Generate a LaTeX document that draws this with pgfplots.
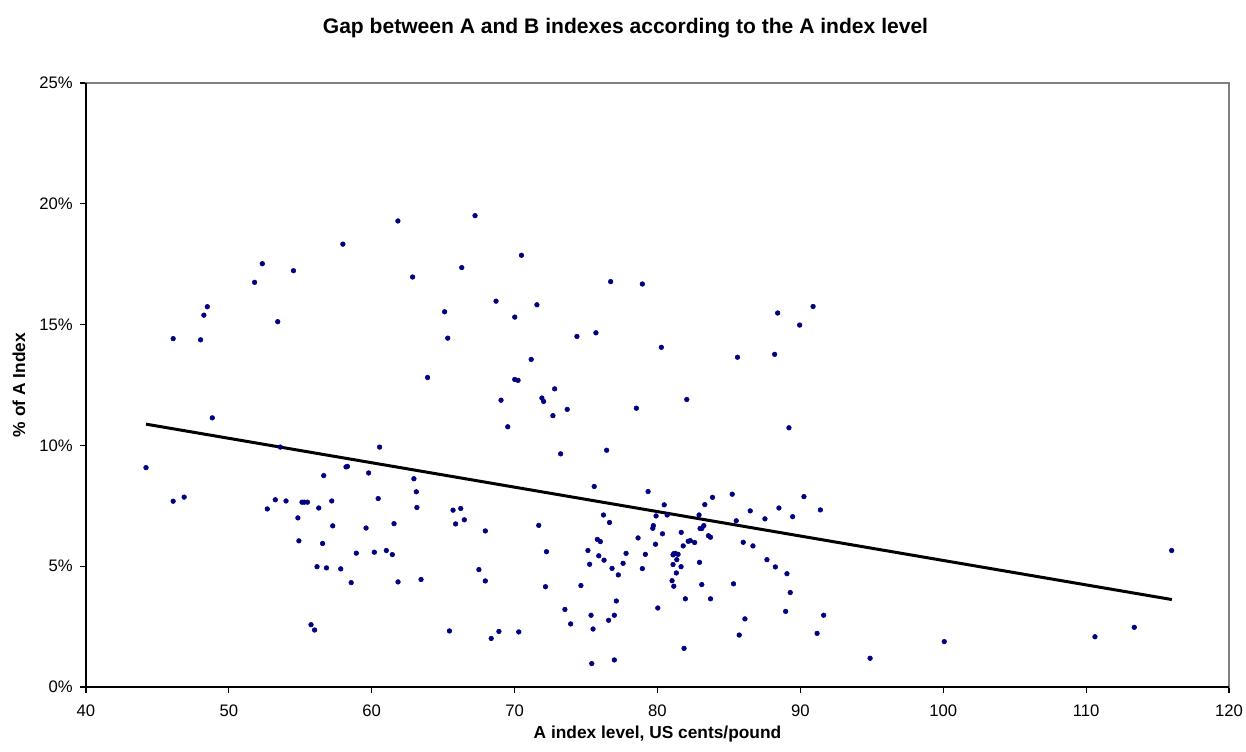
\documentclass[border=0pt]{standalone}
\usepackage{pgfplots}
\pgfplotsset{compat=1.18}
\usepackage{fontspec}
\setmainfont{Liberation Sans}
\definecolor{navy}{RGB}{0,0,128}
\begin{document}
\begin{tikzpicture}
\useasboundingbox (-64.5pt,-48pt) rectangle (870pt,515.25pt);
\begin{axis}[
  scale only axis,
  width=857.25pt, height=453pt,
  xmin=40, xmax=120, ymin=0, ymax=25,
  xtick={40,50,...,120}, ytick={0,5,...,25},
  yticklabel={\pgfmathprintnumber{\tick}\%},
  /pgf/number format/assume math mode=true,
  tick align=outside, xtick pos=bottom, ytick pos=left,
  major tick length=4.5pt,
  tick style={black, line width=0.8pt},
  axis line style={gray, line width=0.8pt},
  ticklabel style={font=\fontsize{12.5}{15}\selectfont},
  xticklabel style={yshift=-5.5pt},
  yticklabel style={xshift=-1.9pt},
  every axis title shift=0pt,
  title={Gap between A and B indexes according to the A index level},
  title style={at={(axis description cs:0.472,1.0911)}, anchor=center, font=\fontsize{15.8}{18}\selectfont\bfseries},
  xlabel={A index level, US cents/pound},
  xlabel style={at={(axis description cs:0.5,-0.0778)}, anchor=center, font=\fontsize{13}{15}\selectfont\bfseries},
  ylabel={\% of A Index},
  ylabel style={at={(axis description cs:-0.0586,0.5)}, anchor=center, font=\fontsize{13}{15}\selectfont\bfseries},
  clip=false,
]
\draw[black, line width=1.2pt] (rel axis cs:0,1) -- (rel axis cs:0,0) -- (rel axis cs:1,0);
\addplot[only marks, mark=*, mark size=1.75pt, color=navy, mark options={fill=navy, draw=navy}] coordinates {
(44.2,9.08) (48.84,11.14) (53.6,9.93) (46.1,7.69) (46.87,7.86) (52.69,7.37) (53.25,7.75) (54.0,7.70)
(55.12,7.65) (55.27,7.65) (55.5,7.65) (54.83,7.0) (56.29,7.41) (56.64,8.75) (57.2,7.70) (57.27,6.67)
(58.2,9.11) (58.3,9.13) (59.78,8.86) (60.55,9.93) (60.45,7.80) (54.9,6.05) (56.56,5.94) (59.6,6.58)
(58.92,5.54) (60.18,5.58) (56.17,4.98) (56.83,4.93) (57.83,4.89) (58.56,4.32) (55.75,2.58) (56.0,2.36)
(57.98,18.33) (52.34,17.52) (54.52,17.23) (51.8,16.75) (48.49,15.74) (48.25,15.39) (53.42,15.12)
(46.1,14.42) (48.02,14.37) (61.83,19.29) (67.23,19.51) (70.48,17.87) (66.3,17.36) (62.86,16.97)
(76.72,16.78) (78.94,16.68) (68.7,15.97) (71.56,15.82) (65.1,15.53) (70.01,15.31) (65.32,14.44)
(74.36,14.51) (75.69,14.66) (80.27,14.06) (71.16,13.56) (63.91,12.81) (70.01,12.73) (70.24,12.69)
(72.8,12.34) (69.05,11.87) (71.91,11.96) (72.03,11.82) (73.68,11.49) (72.68,11.23) (78.52,11.54)
(69.52,10.77) (73.22,9.65) (76.44,9.80) (62.95,8.62) (63.12,8.08) (63.16,7.43) (61.56,6.76)
(61.02,5.65) (61.44,5.48) (61.84,4.35) (63.45,4.45) (65.69,7.32) (66.23,7.39) (65.87,6.75)
(66.48,6.92) (67.95,6.46) (67.5,4.86) (67.95,4.39) (65.44,2.32) (68.36,2.01) (68.9,2.30) (70.29,2.28)
(71.69,6.69) (72.23,5.60) (72.16,4.15) (74.64,4.20) (73.52,3.21) (73.92,2.61) (75.35,2.97) (75.49,2.40)
(75.4,0.97) (76.98,1.12) (75.57,8.30) (76.22,7.12) (76.64,6.81) (75.13,5.65) (75.25,5.08) (75.79,6.11)
(76.0,6.02) (75.89,5.43) (76.26,5.25) (76.82,4.91) (77.26,4.64) (77.59,5.12) (77.8,5.53) (77.12,3.56)
(76.98,2.97) (76.58,2.76) (78.64,6.17) (78.94,4.90) (79.15,5.49) (79.34,8.09) (79.71,6.68) (79.67,6.57)
(79.9,7.08) (79.86,5.91) (80.47,7.54) (80.68,7.12) (80.35,6.34) (80.02,3.27) (82.05,11.9) (89.2,10.73)
(83.85,7.85) (83.31,7.55) (82.91,7.12) (85.23,7.98) (86.49,7.29) (85.51,6.88) (87.52,6.96) (88.5,7.41)
(90.25,7.88) (89.46,7.05) (91.4,7.33) (82.98,6.56) (83.1,6.56) (83.24,6.68) (83.57,6.26) (83.71,6.20)
(81.66,6.40) (81.8,5.84) (82.15,6.03) (82.29,6.06) (82.6,5.98) (81.14,5.52) (81.25,5.53) (81.44,5.49)
(81.09,5.47) (81.35,5.27) (81.09,5.07) (81.65,4.98) (81.32,4.72) (81.02,4.40) (81.14,4.17) (82.94,5.16)
(83.1,4.24) (81.95,3.65) (83.71,3.65) (81.86,1.60) (86.0,5.99) (86.68,5.84) (85.32,4.27) (87.66,5.27)
(88.25,4.97) (89.06,4.69) (89.29,3.91) (88.97,3.13) (86.12,2.82) (85.72,2.15) (91.63,2.97) (91.17,2.22)
(94.88,1.19) (100.07,1.88) (90.89,15.75) (88.41,15.48) (89.95,14.98) (85.6,13.65) (88.2,13.77)
(110.62,2.08) (113.37,2.47) (115.99,5.65)
};
\addplot[black, line width=2.25pt] coordinates {(44.2,10.88) (116,3.62)};
\end{axis}
\end{tikzpicture}
\end{document}
